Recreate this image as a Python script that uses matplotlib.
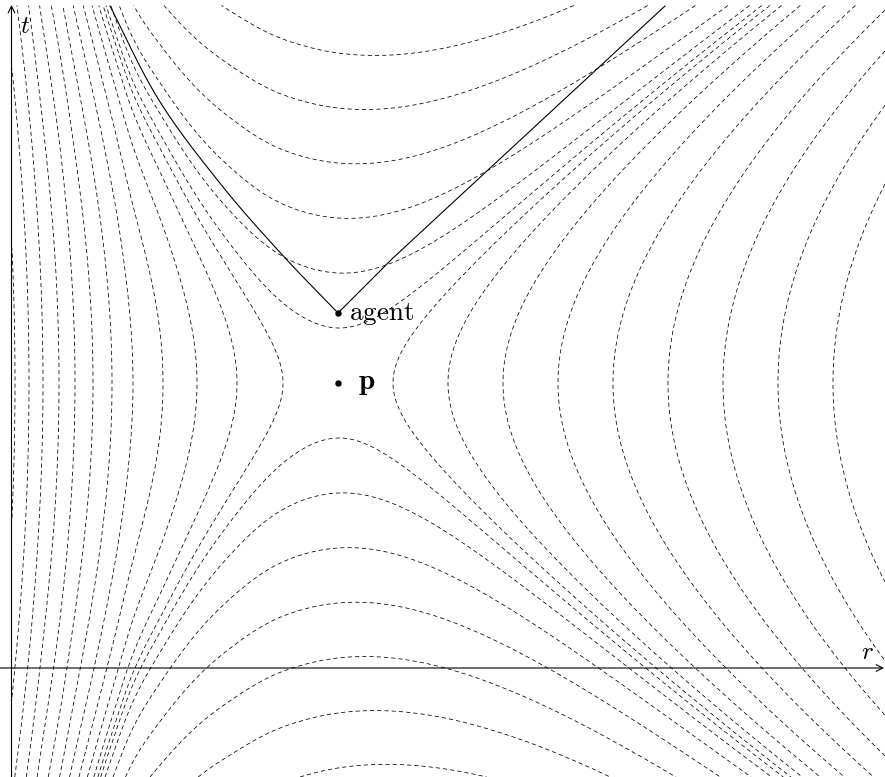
import numpy as np
import matplotlib
matplotlib.use("Agg")
import matplotlib.pyplot as plt

plt.rcParams['mathtext.fontset'] = 'cm'
plt.rcParams['lines.scale_dashes'] = False

# ---- data (r measured from the t axis, t measured from the r axis) ----
p_r, p_t = 326.5, 285.0
agent_r, agent_t = 326.5, 355.0
level_step = 55.0
n_space_levels = 22
n_time_levels = 9
t_top = 662.5

# r positions where the contours cross the horizontal line through p,
# and the corresponding proper distance from p
row_r = [3.5, 17.5, 31.5, 47.5, 63.5, 81.5, 100.5, 121.5, 151.5, 185.5,
         225.5, 271.5, 326.5, 381.5, 436.5, 491.5, 546.5, 873.5]
row_R = [-660, -605, -550, -495, -440, -385, -330, -275, -220, -165,
         -110, -55, 0, 55, 110, 165, 220, 547]

# lapse (clock rate) across r
lapse_r = [0, 60, 150, 210, 270, 326.5, 500, 873.5]
lapse_N = [0.93, 0.93, 0.93, 0.94, 0.972, 1.0, 1.055, 1.17]

# light cone of the agent
cone_left_r = [326.5, 275.5, 211.5, 145.5, 98.5]
cone_left_t = [355, 408, 481, 571, 662]
cone_right_r = [326.5, 381.5, 653.5]
cone_right_t = [355, 410, 662]


def pchip(xk, yk, x):
    xk = np.asarray(xk, float); yk = np.asarray(yk, float)
    h = np.diff(xk); delta = np.diff(yk) / h
    n = len(xk)
    d = np.zeros(n)
    for k in range(1, n - 1):
        if delta[k - 1] * delta[k] > 0:
            w1 = 2 * h[k] + h[k - 1]
            w2 = h[k] + 2 * h[k - 1]
            d[k] = (w1 + w2) / (w1 / delta[k - 1] + w2 / delta[k])
    d[0] = delta[0]; d[-1] = delta[-1]
    x = np.asarray(x, float)
    idx = np.clip(np.searchsorted(xk, x) - 1, 0, n - 2)
    s = (x - xk[idx]) / h[idx]
    h00 = 2 * s**3 - 3 * s**2 + 1
    h10 = s**3 - 2 * s**2 + s
    h01 = -2 * s**3 + 3 * s**2
    h11 = s**3 - s**2
    y = h00 * yk[idx] + h10 * h[idx] * d[idx] + h01 * yk[idx + 1] + h11 * h[idx] * d[idx + 1]
    y = np.where(x < xk[0], yk[0] + d[0] * (x - xk[0]), y)
    y = np.where(x > xk[-1], yk[-1] + d[-1] * (x - xk[-1]), y)
    return y


fig = plt.figure(figsize=(8.85, 7.77), dpi=100)
ax = fig.add_axes([0, 0, 1, 1])
ax.set_xlim(-11.5, 873.5)
ax.set_ylim(-109, 668)
ax.axis('off')

rr = np.linspace(0.5, 873.5, 1600)
tt = np.linspace(-109, t_top, 1400)
RR, TT = np.meshgrid(rr, tt)
dR = pchip(row_r, row_R, RR)
N = pchip(lapse_r, lapse_N, RR)
dT = N * (TT - p_t)
S = dR**2 - dT**2
F = np.sign(S) * np.sqrt(np.abs(S))

levels = sorted([-level_step * k for k in range(1, n_time_levels + 1)] +
                [level_step * k for k in range(1, n_space_levels + 1)])
ax.contour(RR, TT, F, levels=levels, colors='black', linewidths=0.55,
           linestyles=[(0, (3.0, 2.2))])

# smooth curve through the read light-cone points
tl = np.linspace(cone_left_t[0], cone_left_t[-1], 300)
ax.plot(pchip(cone_left_t, cone_left_r, tl), tl, color='black', lw=0.8)
ax.plot(cone_right_r, cone_right_t, color='black', lw=0.8)

ax.plot([agent_r, p_r], [agent_t, p_t], 'o', color='black', ms=3.6, ls='none')

arrow = dict(arrowstyle='->', lw=0.8, color='black', mutation_scale=12,
             shrinkA=0, shrinkB=0)
ax.annotate('', xy=(872.5, 0), xytext=(-11.5, 0), arrowprops=arrow)
ax.annotate('', xy=(0, 663), xytext=(0, -109), arrowprops=arrow)

ax.text(13.5, 642, r'$t$', fontsize=18, ha='center', va='center')
ax.text(855.5, 16, r'$r$', fontsize=18, ha='center', va='center')
ax.text(337.5, 354, r'$\mathrm{agent}$', fontsize=19.5, ha='left', va='center')
ax.text(346.5, 285, r'$\mathbf{p}$', fontsize=21, ha='left', va='center')

fig.savefig('out.png', dpi=100)
